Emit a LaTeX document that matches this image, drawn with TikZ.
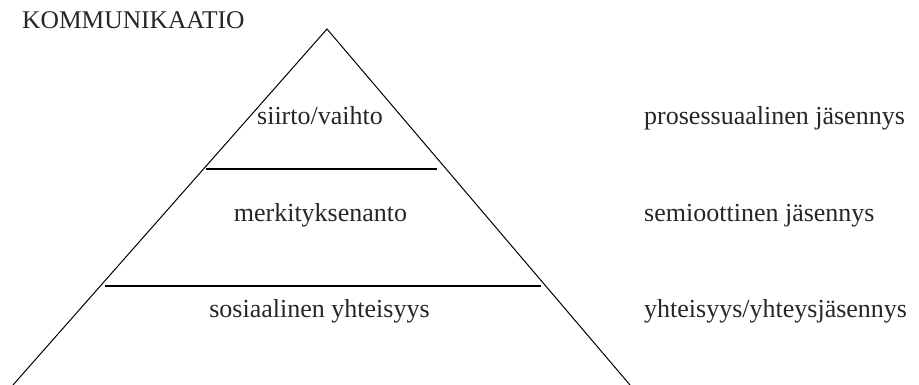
\documentclass[tikz,border=0pt]{standalone}
\usepackage{fontspec}
\setmainfont{Liberation Serif}
\begin{document}
\begin{tikzpicture}[x=1pt,y=-1pt,
  lbl/.style={inner sep=0pt,text=black!85,font=\fontsize{26}{30}\selectfont},
  edge/.style={line width=1pt},
  bar/.style={line width=2pt}]
\useasboundingbox (0,0) rectangle (919,385);
\coordinate (apex) at (327,29);
\coordinate (bl) at (13,385);
\coordinate (br) at (630,385);
\coordinate (t1) at (206,169);
\coordinate (t2) at (437,169);
\coordinate (b1) at (105,286);
\coordinate (b2) at (541,286);
\draw[edge] (bl) -- (apex) -- (br);
\draw[bar] (t1) -- (t2);
\draw[bar] (b1) -- (b2);
\node[lbl,anchor=base west,font=\fontsize{25.5}{30}\selectfont] (title) at (22,29) {KOMMUNIKAATIO};
\node[lbl,anchor=base] (l1) at (320,125) {siirto/vaihto};
\node[lbl,anchor=base] (l2) at (320.5,222) {merkityksenanto};
\node[lbl,anchor=base] (l3) at (319.5,317) {sosiaalinen yhteisyys};
\node[lbl,anchor=base west] (r1) at (644,125) {prosessuaalinen jäsennys};
\node[lbl,anchor=base west] (r2) at (644,222) {semioottinen jäsennys};
\node[lbl,anchor=base west] (r3) at (644,317) {yhteisyys/yhteysjäsennys};
\end{tikzpicture}
\end{document}
